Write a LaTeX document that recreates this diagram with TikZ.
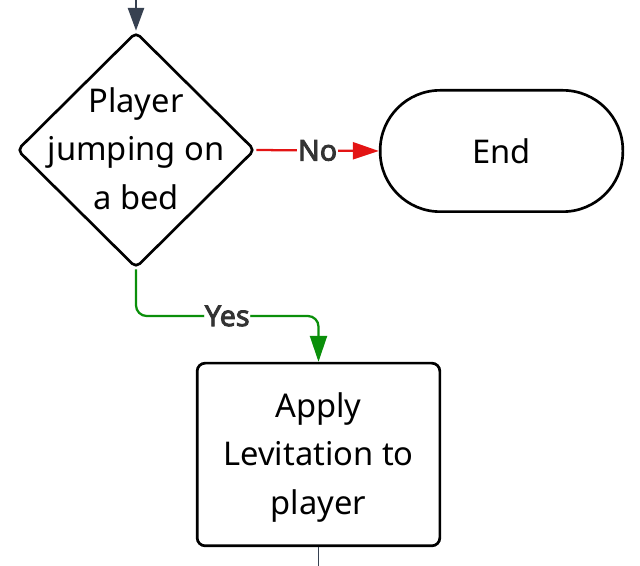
\documentclass[tikz,border=0pt]{standalone}
\usepackage{fontspec}
\setmainfont{Noto Sans}
\newfontfamily\labfont{Noto Sans}[FakeBold=3]
\usetikzlibrary{arrows.meta,shapes.geometric}
\definecolor{arrowgray}{HTML}{374151}
\definecolor{nored}{HTML}{E31414}
\definecolor{yesgreen}{HTML}{0A8F0A}
\definecolor{labgray}{HTML}{333333}
\tikzset{
  every node/.style={font=\fontsize{24.5}{36.5}\selectfont, text=black},
  dia/.style={draw, shape=diamond, line width=2pt, rounded corners=4pt, minimum width=178.5pt, minimum height=177pt, inner sep=0pt},
  term/.style={draw, rectangle, line width=2pt, rounded corners=45pt, minimum width=182pt, minimum height=91pt, inner sep=0pt},
  proc/.style={draw, rectangle, line width=2pt, rounded corners=6pt, minimum width=182pt, minimum height=137pt, inner sep=0pt},
  txt/.style={align=center, inner sep=0pt},
  lab/.style={font=\labfont\fontsize{21.5}{24}\selectfont, text=labgray, fill=white, inner sep=0.5pt},
  tip/.style={-{Triangle[length=19.5pt,width=12.75pt]}},
  conn/.style={line width=1.7pt, tip},
}
\begin{document}
\begin{tikzpicture}[x=0.75pt,y=-0.75pt]
\useasboundingbox (0,0) rectangle (640,566);
\node[dia] (d) at (136,150) {};
\node[txt] (dtext) at (136,148.5) {Player\\jumping on\\a bed};
\node[term] (end) at (501.5,151) {End};
\node[proc] (box) at (318.5,454.5) {};
\node[txt] (boxtext) at (318.5,457.5) {Apply\\Levitation to\\player};
\coordinate (topin) at (136,0);
\coordinate (botout) at (318.5,566);
\coordinate (yc1) at (136,316);
\coordinate (yc2) at (318.5,316);
\draw[conn, arrowgray, -{Triangle[length=17pt,width=12pt]}] (topin) -- (d.north);
\draw[conn, nored] (d.east) -- node[lab] {No} (end.west);
\draw[conn, yesgreen, rounded corners=8pt] (d.south) -- (yc1) -- node[lab] {Yes} (yc2) -- (box.north);
\draw[arrowgray, line width=0.8pt] (box.south) -- (botout);
\end{tikzpicture}
\end{document}
